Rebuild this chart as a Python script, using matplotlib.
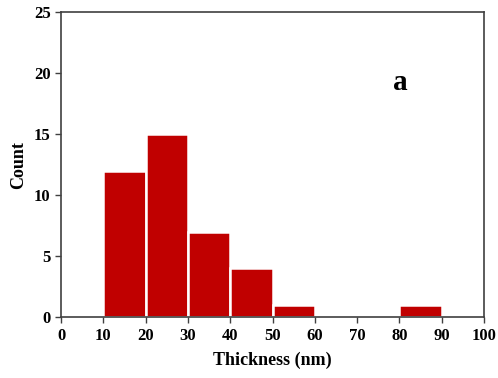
import matplotlib
matplotlib.use('Agg')
import matplotlib.pyplot as plt

# Данные гистограммы
bin_left = [10, 20, 30, 40, 50, 80]
counts = [12, 15, 7, 4, 1, 1]
x_ticks = list(range(0, 101, 10))
y_ticks = list(range(0, 26, 5))

plt.rcParams['font.family'] = ['Liberation Serif', 'DejaVu Serif']
plt.rcParams['font.weight'] = 'bold'

fig = plt.figure(figsize=(4.98, 3.78), dpi=100)
ax = fig.add_axes([0.1225, 0.161, 0.8495, 0.807])

ax.bar(bin_left, counts, width=10, align='edge', color='#C00000',
       edgecolor='white', linewidth=1.8)

ax.set_xlim(0, 100)
ax.set_ylim(0, 25)
ax.set_xticks(x_ticks)
ax.set_yticks(y_ticks)
ax.tick_params(direction='out', length=4, width=1, color='#404040',
               labelsize=12, top=False, right=False)
for lbl in ax.get_xticklabels() + ax.get_yticklabels():
    lbl.set_fontweight('bold')
for s in ax.spines.values():
    s.set_color('#404040')
    s.set_linewidth(1.2)

ax.set_xlabel('Thickness (nm)', fontsize=13, fontweight='bold', labelpad=6)
ax.set_ylabel('Count', fontsize=13, fontweight='bold', labelpad=5)
ax.text(80.2, 19.2, 'a', fontsize=21, fontweight='bold', ha='center', va='center')

fig.savefig('out.png', dpi=100)
